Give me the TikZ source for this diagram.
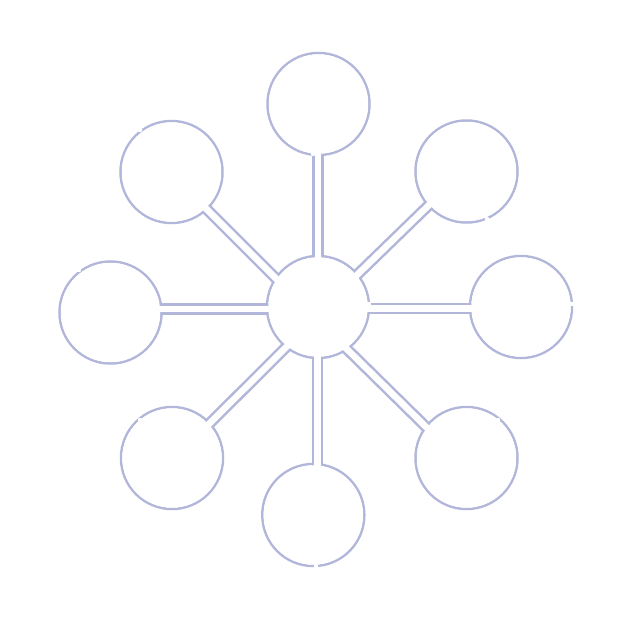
\documentclass[tikz,border=0pt]{standalone}
\begin{document}
\begin{tikzpicture}[x=1pt,y=-1pt,
  ring/.style={circle,draw=lav,line width=2.5pt,minimum size=102pt,inner sep=0pt},
  pipe/.style={draw=lav,line width=2.5pt,double=white,double distance=6.5pt},
  hole/.style={fill=white},
  nick/.style={fill=white}]
\definecolor{lav}{RGB}{178,182,218}
\useasboundingbox (0,0) rectangle (640,640);
\fill[white] (0,0) rectangle (640,640);
% circles
\node[ring] (c)  at (318,307) {};
\node[ring] (n)  at (318.5,104) {};
\node[ring] (ne) at (466.5,171.5) {};
\node[ring] (e)  at (521,307) {};
\node[ring] (se) at (466.5,458) {};
\node[ring] (s)  at (313.3,515) {};
\node[ring] (sw) at (172,458) {};
\node[ring] (w)  at (110.5,312.5) {};
\node[ring] (nw) at (171.5,172) {};
% pipe end points
\coordinate (pn1) at (318,290);   \coordinate (pn2) at (318,125);
\coordinate (ps1) at (317.5,325); \coordinate (ps2) at (317.5,490);
\coordinate (pw1) at (300,309);   \coordinate (pw2) at (135,309);
\coordinate (pe1) at (336,308.7); \coordinate (pe2) at (500,308.7);
\coordinate (pne1) at (338,293.4); \coordinate (pne2) at (450,184.6);
\coordinate (psw1) at (300,333.4); \coordinate (psw2) at (190,442.9);
\coordinate (pse1) at (335,337.4); \coordinate (pse2) at (450,450.5);
\coordinate (pnw1) at (300,302.4); \coordinate (pnw2) at (190,192.5);
% pipes
\foreach \p in {n,s,w,e,ne,sw,se,nw}{
  \draw[pipe] (p\p1) -- (p\p2);
}
% clear circle interiors
\foreach \q in {c,n,ne,e,se,s,sw,w,nw}{
  \fill[hole] (\q.center) circle[radius=49.75pt];
}
% small gaps on the outlines
\fill[nick] (140,130) circle[radius=2.2pt];
\fill[nick] (79,270) circle[radius=2.2pt];
\fill[nick] (313,154) circle[radius=2.2pt];
\fill[nick] (487,219) circle[radius=2.2pt];
\fill[nick] (572,304) circle[radius=2.2pt];
\fill[nick] (369,304) circle[radius=2.2pt];
\fill[nick] (498,420) circle[radius=2.2pt];
\fill[nick] (316,566) circle[radius=2.2pt];
\fill[nick] (140,420) circle[radius=2.2pt];
\end{tikzpicture}
\end{document}
